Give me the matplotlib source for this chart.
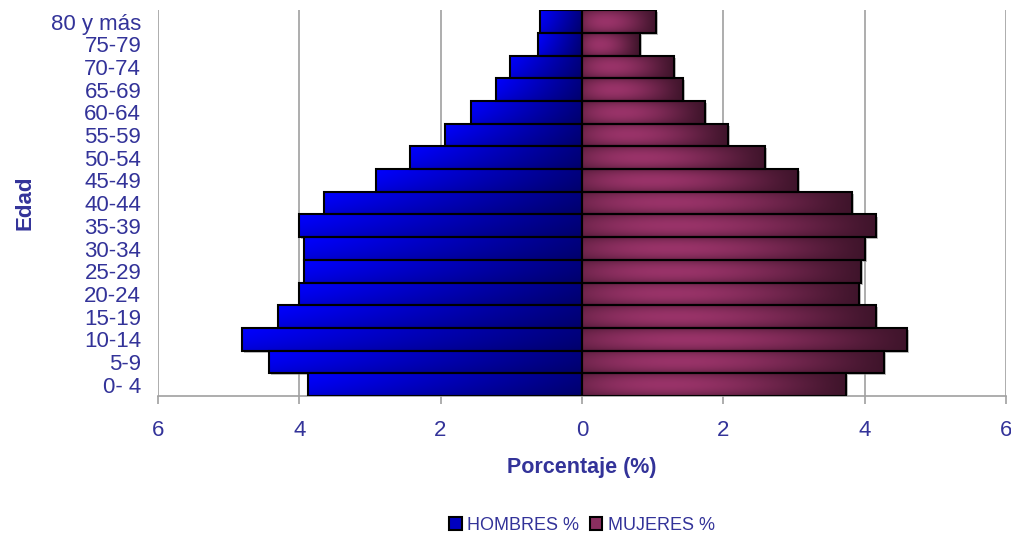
import numpy as np
import matplotlib
matplotlib.use("Agg")
import matplotlib.pyplot as plt
from matplotlib.patches import Patch
import matplotlib.patheffects as pe

plt.rcParams['font.family'] = ['Liberation Sans', 'DejaVu Sans']

edades = ['0- 4', '5-9', '10-14', '15-19', '20-24', '25-29', '30-34', '35-39',
          '40-44', '45-49', '50-54', '55-59', '60-64', '65-69', '70-74', '75-79', '80 y más']
hombres = [3.88, 4.43, 4.81, 4.30, 4.00, 3.93, 3.93, 4.00,
           3.65, 2.91, 2.43, 1.94, 1.57, 1.22, 1.02, 0.62, 0.59]
mujeres = [3.73, 4.27, 4.60, 4.16, 3.92, 3.95, 4.00, 4.16,
           3.82, 3.06, 2.59, 2.07, 1.74, 1.43, 1.30, 0.82, 1.05]

txt = '#333399'
grid = '#a0a0a0'


def grad_hombres(n=64):
    x = np.linspace(0, 1, n)          # 0 = outer end, 1 = centre
    y = np.linspace(0, 1, n)[:, None]  # 0 = bottom, 1 = top
    b = (1.0 - 0.5 * x)[None, :] * (0.78 + 0.22 * np.sqrt(y))
    img = np.zeros((n, n, 3))
    img[..., 2] = b
    return img


def grad_mujeres(n=64):
    x = np.linspace(0, 1, n)          # 0 = centre, 1 = outer end
    y = np.linspace(0, 1, n)[:, None]
    fx = np.clip(np.sin(np.pi * (0.12 + 0.88 * x) ** 0.75), 0, 1) ** 1.1
    fy = np.sin(np.pi * (0.1 + 0.8 * y)) ** 0.6
    f = fx[None, :] * fy
    dark = np.array([0.25, 0.08, 0.17])
    light = np.array([0.60, 0.20, 0.41])
    return dark + (light - dark) * f[..., None]


fig = plt.figure(figsize=(10.12, 5.36), dpi=100)
ax = fig.add_axes([0.156, 0.261, 0.838, 0.72])

y = np.arange(len(edades))
left = -np.array(hombres)
right = np.array(mujeres)

shadow = [pe.SimplePatchShadow(offset=(1.5, -1.5), shadow_rgbFace='0.5', alpha=0.5), pe.Normal()]
bh = ax.barh(y, left, height=1.0, color='#0000c0', zorder=2, path_effects=shadow)
bm = ax.barh(y, right, height=1.0, color='#7a2a55', zorder=2, path_effects=shadow)

gh = grad_hombres()
gm = grad_mujeres()
for rect, v, yy in zip(bh, left, y):
    im = ax.imshow(gh, extent=[v, 0, yy - 0.5, yy + 0.5], origin='lower',
                   aspect='auto', zorder=3, interpolation='bilinear')
    im.set_clip_path(rect)
for rect, v, yy in zip(bm, right, y):
    im = ax.imshow(gm, extent=[0, v, yy - 0.5, yy + 0.5], origin='lower',
                   aspect='auto', zorder=3, interpolation='bilinear')
    im.set_clip_path(rect)

ax.barh(y, left, height=1.0, facecolor='none', edgecolor='black', linewidth=1.5, zorder=4)
ax.barh(y, right, height=1.0, facecolor='none', edgecolor='black', linewidth=1.5, zorder=4)

ax.set_xlim(-6, 6)
ax.set_ylim(-0.5, len(edades) - 0.5)
ax.set_xticks(np.arange(-6, 7, 2))
ax.set_xticklabels([str(abs(t)) for t in range(-6, 7, 2)])
ax.set_yticks(y)
ax.set_yticklabels(edades)

ax.grid(axis='x', color=grid, linewidth=1.2, zorder=0)
ax.set_axisbelow(True)
for s in ['top', 'right', 'left']:
    ax.spines[s].set_visible(False)
ax.spines['bottom'].set_color(grid)
ax.spines['bottom'].set_linewidth(1.2)
ax.tick_params(axis='x', colors=grid, labelcolor=txt, labelsize=16, length=6, width=1.2, pad=11)
ax.tick_params(axis='y', length=0, labelcolor=txt, labelsize=16, pad=12)

ax.set_xlabel('Porcentaje (%)', fontsize=15.5, fontweight='bold', color=txt, labelpad=12)
ax.set_ylabel('Edad', fontsize=16, fontweight='bold', color=txt, labelpad=11)

handles = [Patch(facecolor='#0000c0', edgecolor='black', linewidth=1.5, label='HOMBRES %'),
           Patch(facecolor='#8a2f60', edgecolor='black', linewidth=1.5, label='MUJERES %')]
leg = fig.legend(handles=handles, loc='center', bbox_to_anchor=(0.575, 0.02), ncol=2,
                 frameon=False, fontsize=13, handlelength=0.7, handleheight=0.7,
                 handletextpad=0.3, columnspacing=0.6, labelcolor=txt)

fig.savefig('out.png', dpi=100)
